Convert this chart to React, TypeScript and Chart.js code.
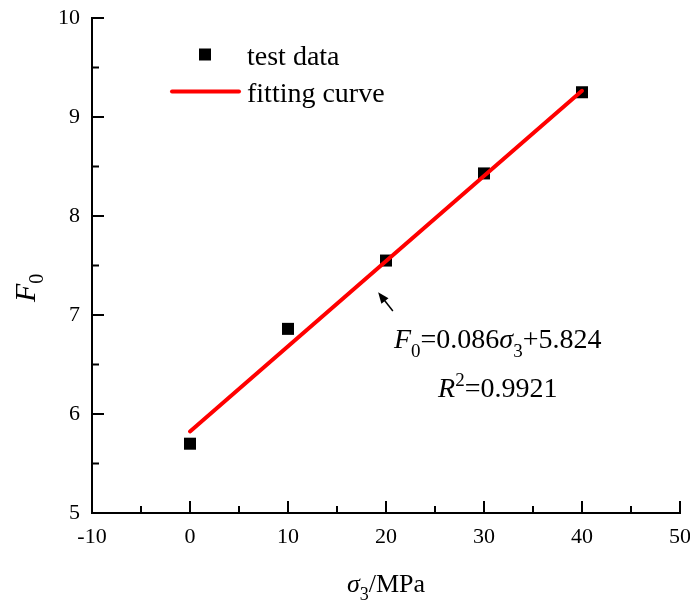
import React, { useEffect, useRef } from 'react';
import { Chart, registerables } from 'chart.js';
Chart.register(...registerables);

// ---- data ----
const testX = [0, 10, 20, 30, 40];
const testY = [5.7, 6.86, 7.55, 8.43, 9.25];
const fitX = [0, 40];
const fitY = [5.824, 9.264];

const xMajorTicks = [-10, 0, 10, 20, 30, 40, 50];
const xMinorTicks = [-5, 5, 15, 25, 35, 45];
const yMajorTicks = [5, 6, 7, 8, 9, 10];
const yMinorTicks = [5.5, 6.5, 7.5, 8.5, 9.5];

const legendLabels = ['test data', 'fitting curve'];
const equationText = ['=0.086', '+5.824'];
const r2Text = '=0.9921';
const arrowHead = { x: 19.2, y: 7.23 };
const arrowTail = { x: 20.7, y: 7.04 };
const eqCenter = { x: 31.4, y1: 6.67, y2: 6.17 };

const SERIF = '"Liberation Serif", "Times New Roman", serif';

function drawRuns(ctx: CanvasRenderingContext2D, runs: { t: string; size: number; italic?: boolean; dy?: number }[], x: number, y: number, align: 'left' | 'center') {
  let total = 0;
  const widths = runs.map(r => {
    ctx.font = `${r.italic ? 'italic ' : ''}${r.size}px ${SERIF}`;
    const w = ctx.measureText(r.t).width;
    total += w;
    return w;
  });
  let cx = align === 'center' ? x - total / 2 : x;
  runs.forEach((r, i) => {
    ctx.font = `${r.italic ? 'italic ' : ''}${r.size}px ${SERIF}`;
    ctx.fillText(r.t, cx, y + (r.dy || 0));
    cx += widths[i];
  });
}

const decorPlugin = {
  id: 'decor',
  afterDatasetsDraw(chart: any) {
    const { ctx, chartArea, scales } = chart;
    const xs = scales.x, ys = scales.y;
    const L = chartArea.left, B = chartArea.bottom, T = chartArea.top;
    ctx.save();
    ctx.strokeStyle = '#000';
    ctx.fillStyle = '#000';
    ctx.lineWidth = 2;
    ctx.beginPath();
    xMajorTicks.forEach(v => { const p = xs.getPixelForValue(v); ctx.moveTo(p, B); ctx.lineTo(p, B - 12); });
    xMinorTicks.forEach(v => { const p = xs.getPixelForValue(v); ctx.moveTo(p, B); ctx.lineTo(p, B - 7); });
    yMajorTicks.forEach(v => { const p = ys.getPixelForValue(v); ctx.moveTo(L, p); ctx.lineTo(L + 12, p); });
    yMinorTicks.forEach(v => { const p = ys.getPixelForValue(v); ctx.moveTo(L, p); ctx.lineTo(L + 7, p); });
    ctx.stroke();

    // legend
    ctx.textBaseline = 'alphabetic';
    ctx.textAlign = 'left';
    ctx.fillRect(L + 107, T + 30.5, 12, 12);
    ctx.font = `28px ${SERIF}`;
    ctx.fillText(legendLabels[0], L + 155, T + 46.5);
    ctx.strokeStyle = '#ff0000';
    ctx.lineWidth = 4;
    ctx.lineCap = 'round';
    ctx.beginPath();
    ctx.moveTo(L + 80, T + 73.5);
    ctx.lineTo(L + 147, T + 73.5);
    ctx.stroke();
    ctx.fillText(legendLabels[1], L + 155, T + 83.5);

    // arrow
    const hx = xs.getPixelForValue(arrowHead.x), hy = ys.getPixelForValue(arrowHead.y);
    const tx = xs.getPixelForValue(arrowTail.x), ty = ys.getPixelForValue(arrowTail.y);
    const ang = Math.atan2(hy - ty, hx - tx);
    ctx.strokeStyle = '#000';
    ctx.lineWidth = 1.5;
    ctx.lineCap = 'butt';
    ctx.beginPath();
    ctx.moveTo(tx, ty);
    ctx.lineTo(hx - 6 * Math.cos(ang), hy - 6 * Math.sin(ang));
    ctx.stroke();
    ctx.beginPath();
    ctx.moveTo(hx, hy);
    ctx.lineTo(hx - 11 * Math.cos(ang) + 4.5 * Math.sin(ang), hy - 11 * Math.sin(ang) - 4.5 * Math.cos(ang));
    ctx.lineTo(hx - 11 * Math.cos(ang) - 4.5 * Math.sin(ang), hy - 11 * Math.sin(ang) + 4.5 * Math.cos(ang));
    ctx.closePath();
    ctx.fill();

    // equation
    const ecx = xs.getPixelForValue(eqCenter.x);
    drawRuns(ctx, [
      { t: 'F', size: 28, italic: true },
      { t: '0', size: 19, dy: 9 },
      { t: equationText[0], size: 28 },
      { t: 'σ', size: 28, italic: true },
      { t: '3', size: 19, dy: 9 },
      { t: equationText[1], size: 28 },
    ], ecx, ys.getPixelForValue(eqCenter.y1), 'center');
    drawRuns(ctx, [
      { t: 'R', size: 28, italic: true },
      { t: '2', size: 19, dy: -11 },
      { t: r2Text, size: 28 },
    ], ecx, ys.getPixelForValue(eqCenter.y2), 'center');

    // x title
    const xc = (chartArea.left + chartArea.right) / 2;
    drawRuns(ctx, [
      { t: 'σ', size: 26, italic: true },
      { t: '3', size: 18, dy: 8 },
      { t: '/MPa', size: 26 },
    ], xc, 592, 'center');

    // y title
    ctx.save();
    ctx.translate(35, 302);
    ctx.rotate(-Math.PI / 2);
    drawRuns(ctx, [
      { t: 'F', size: 30, italic: true },
      { t: '0', size: 20, dy: 8 },
    ], 0, 0, 'left');
    ctx.restore();
    ctx.restore();
  },
};

export default function App() {
  const ref = useRef<HTMLCanvasElement>(null);
  useEffect(() => {
    if (!ref.current) return;
    const chart = new Chart(ref.current, {
      type: 'scatter',
      data: {
        datasets: [
          {
            label: legendLabels[1],
            data: fitX.map((x, i) => ({ x, y: fitY[i] })),
            showLine: true,
            borderColor: '#ff0000',
            borderWidth: 4,
            borderCapStyle: 'round',
            pointRadius: 0,
            order: 0,
          },
          {
            label: legendLabels[0],
            data: testX.map((x, i) => ({ x, y: testY[i] })),
            pointStyle: 'rect',
            pointRadius: 8.5,
            backgroundColor: '#000',
            borderColor: '#000',
            borderWidth: 0,
            order: 1,
          },
        ],
      } as any,
      options: {
        animation: false,
        responsive: false,
        maintainAspectRatio: false,
        layout: { padding: { top: 18, right: 10, left: 0, bottom: 0 } },
        plugins: { legend: { display: false }, tooltip: { enabled: false } },
        scales: {
          x: {
            type: 'linear',
            min: -10,
            max: 50,
            afterBuildTicks: (s: any) => { s.ticks = xMajorTicks.map(v => ({ value: v })); },
            afterFit: (s: any) => { s.height = 90; s.paddingLeft = 0; s.paddingRight = 0; },
            grid: { display: false, drawTicks: false },
            border: { display: true, color: '#000', width: 2 },
            ticks: { color: '#000', padding: 11, font: { family: SERIF, size: 22 }, maxRotation: 0 },
          },
          y: {
            type: 'linear',
            min: 5,
            max: 10,
            afterBuildTicks: (s: any) => { s.ticks = yMajorTicks.map(v => ({ value: v })); },
            afterFit: (s: any) => { s.width = 92; s.paddingTop = 0; s.paddingBottom = 0; },
            grid: { display: false, drawTicks: false },
            border: { display: true, color: '#000', width: 2 },
            ticks: { color: '#000', padding: 12, font: { family: SERIF, size: 22 } },
          },
        },
      } as any,
      plugins: [decorPlugin],
    });
    return () => chart.destroy();
  }, []);
  return (
    <div style={{ position: 'absolute', left: 0, top: 0, width: 690, height: 603, background: '#fff' }}>
      <canvas ref={ref} width={690} height={603} style={{ width: 690, height: 603 }} />
    </div>
  );
}
